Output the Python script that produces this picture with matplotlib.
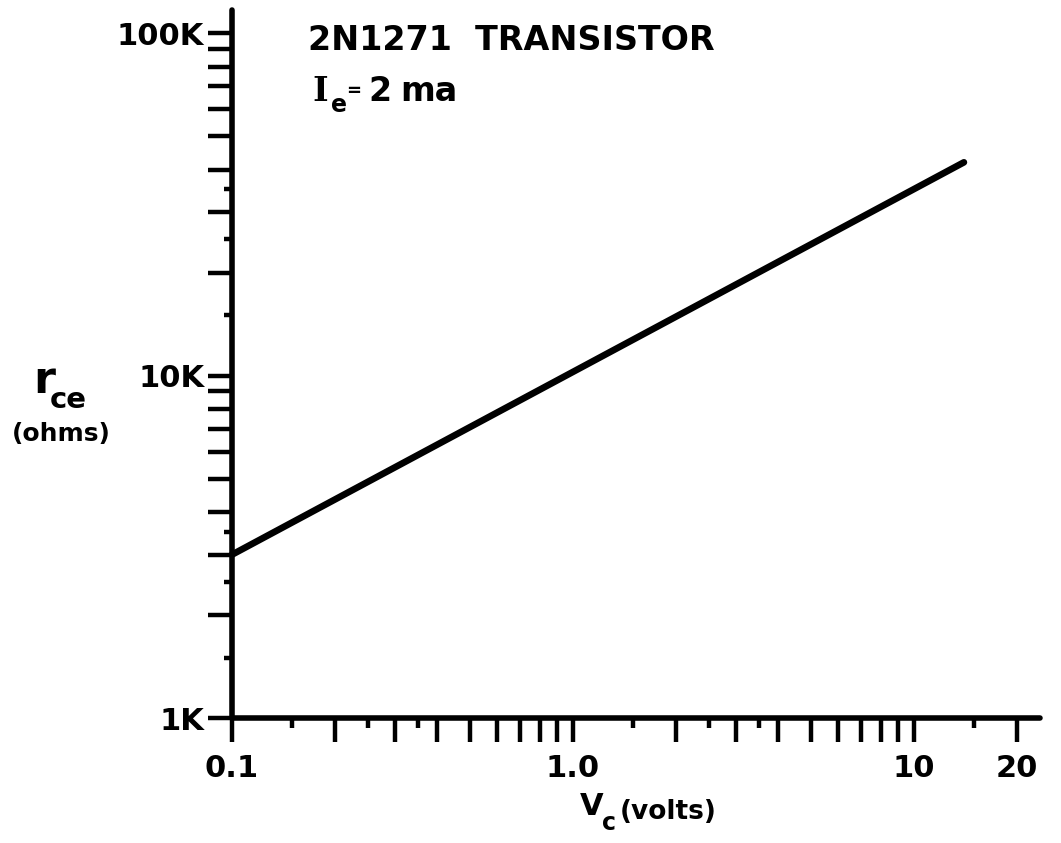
import matplotlib
matplotlib.use("Agg")
import matplotlib.pyplot as plt
from matplotlib.ticker import FixedLocator, FixedFormatter, NullFormatter

# Collector voltage (V) and collector-emitter resistance (ohms)
vc_volts = [0.1, 14.0]
rce_ohms = [3000.0, 42000.0]

# Axis ticks
x_long_ticks = [0.1, 0.2, 0.3, 0.4, 0.5, 0.6, 0.7, 0.8, 0.9,
                1.0, 2, 3, 4, 5, 6, 7, 8, 9, 10, 20]
x_short_ticks = [0.15, 0.25, 0.35, 1.5, 2.5, 3.5, 15]
x_tick_labels = {0.1: "0.1", 1.0: "1.0", 10: "10", 20: "20"}

y_long_ticks = [1e3, 2e3, 3e3, 4e3, 5e3, 6e3, 7e3, 8e3, 9e3,
                1e4, 2e4, 3e4, 4e4, 5e4, 6e4, 7e4, 8e4, 9e4, 1e5]
y_short_ticks = [1500, 2500, 3500, 15000, 25000, 35000]
y_tick_labels = {1e3: "1K", 1e4: "10K", 1e5: "100K"}

W, H = 1061, 843
fig = plt.figure(figsize=(W / 100, H / 100), dpi=100)
fig.patch.set_facecolor("white")

left_px, right_px, top_px, bottom_px = 232, 1040, 10, 718
ax = fig.add_axes([left_px / W, 1 - bottom_px / H,
                   (right_px - left_px) / W, (bottom_px - top_px) / H])
ax.set_xscale("log")
ax.set_yscale("log")
ax.set_xlim(0.1, 23.4)
ax.set_ylim(1000, 117000)

ax.plot(vc_volts, rce_ohms, color="black", lw=4.8, solid_capstyle="round",
        clip_on=False)

for side in ("top", "right"):
    ax.spines[side].set_visible(False)
for side in ("left", "bottom"):
    ax.spines[side].set_linewidth(4.0)
    ax.spines[side].set_capstyle("round")

ax.xaxis.set_major_locator(FixedLocator(x_long_ticks))
ax.xaxis.set_major_formatter(FixedFormatter(
    [x_tick_labels.get(t, "") for t in x_long_ticks]))
ax.xaxis.set_minor_locator(FixedLocator(x_short_ticks))
ax.xaxis.set_minor_formatter(NullFormatter())

ax.yaxis.set_major_locator(FixedLocator(y_long_ticks))
ax.yaxis.set_major_formatter(FixedFormatter(
    [y_tick_labels.get(t, "") for t in y_long_ticks]))
ax.yaxis.set_minor_locator(FixedLocator(y_short_ticks))
ax.yaxis.set_minor_formatter(NullFormatter())

ax.tick_params(axis="x", which="major", direction="out", length=17,
               width=3.2, pad=9, labelsize=22)
ax.tick_params(axis="x", which="minor", direction="out", length=7, width=3.2)
ax.tick_params(axis="y", which="major", direction="out", length=17,
               width=3.2, pad=3, labelsize=22)
ax.tick_params(axis="y", which="minor", direction="out", length=6, width=3.2)
for lbl in ax.get_xticklabels() + ax.get_yticklabels():
    lbl.set_fontweight("bold")


def put(x, y, s, size, **kw):
    """Place bold text by pixel position (x from left, baseline y from top)."""
    fig.text(x / W, 1 - y / H, s, fontsize=size, fontweight="bold",
             va="baseline", ha="left", **kw)


# Heading
put(308, 50, "2N1271  TRANSISTOR", 24)
put(312, 101, "I", 24, family="DejaVu Serif")
put(331, 112, "e", 17)
put(346, 96, "=", 13)
put(368, 101, "2", 24)
put(400, 101, "ma", 24)

# Y axis title
put(33, 393, "r", 32)
put(50, 408, "ce", 21)
put(12, 441, "(ohms)", 18)

# X axis title
put(580, 815, "V", 22)
put(602, 830, "c", 17)
put(620, 819, "(volts)", 19)

fig.savefig("out.png", dpi=100, facecolor="white")
